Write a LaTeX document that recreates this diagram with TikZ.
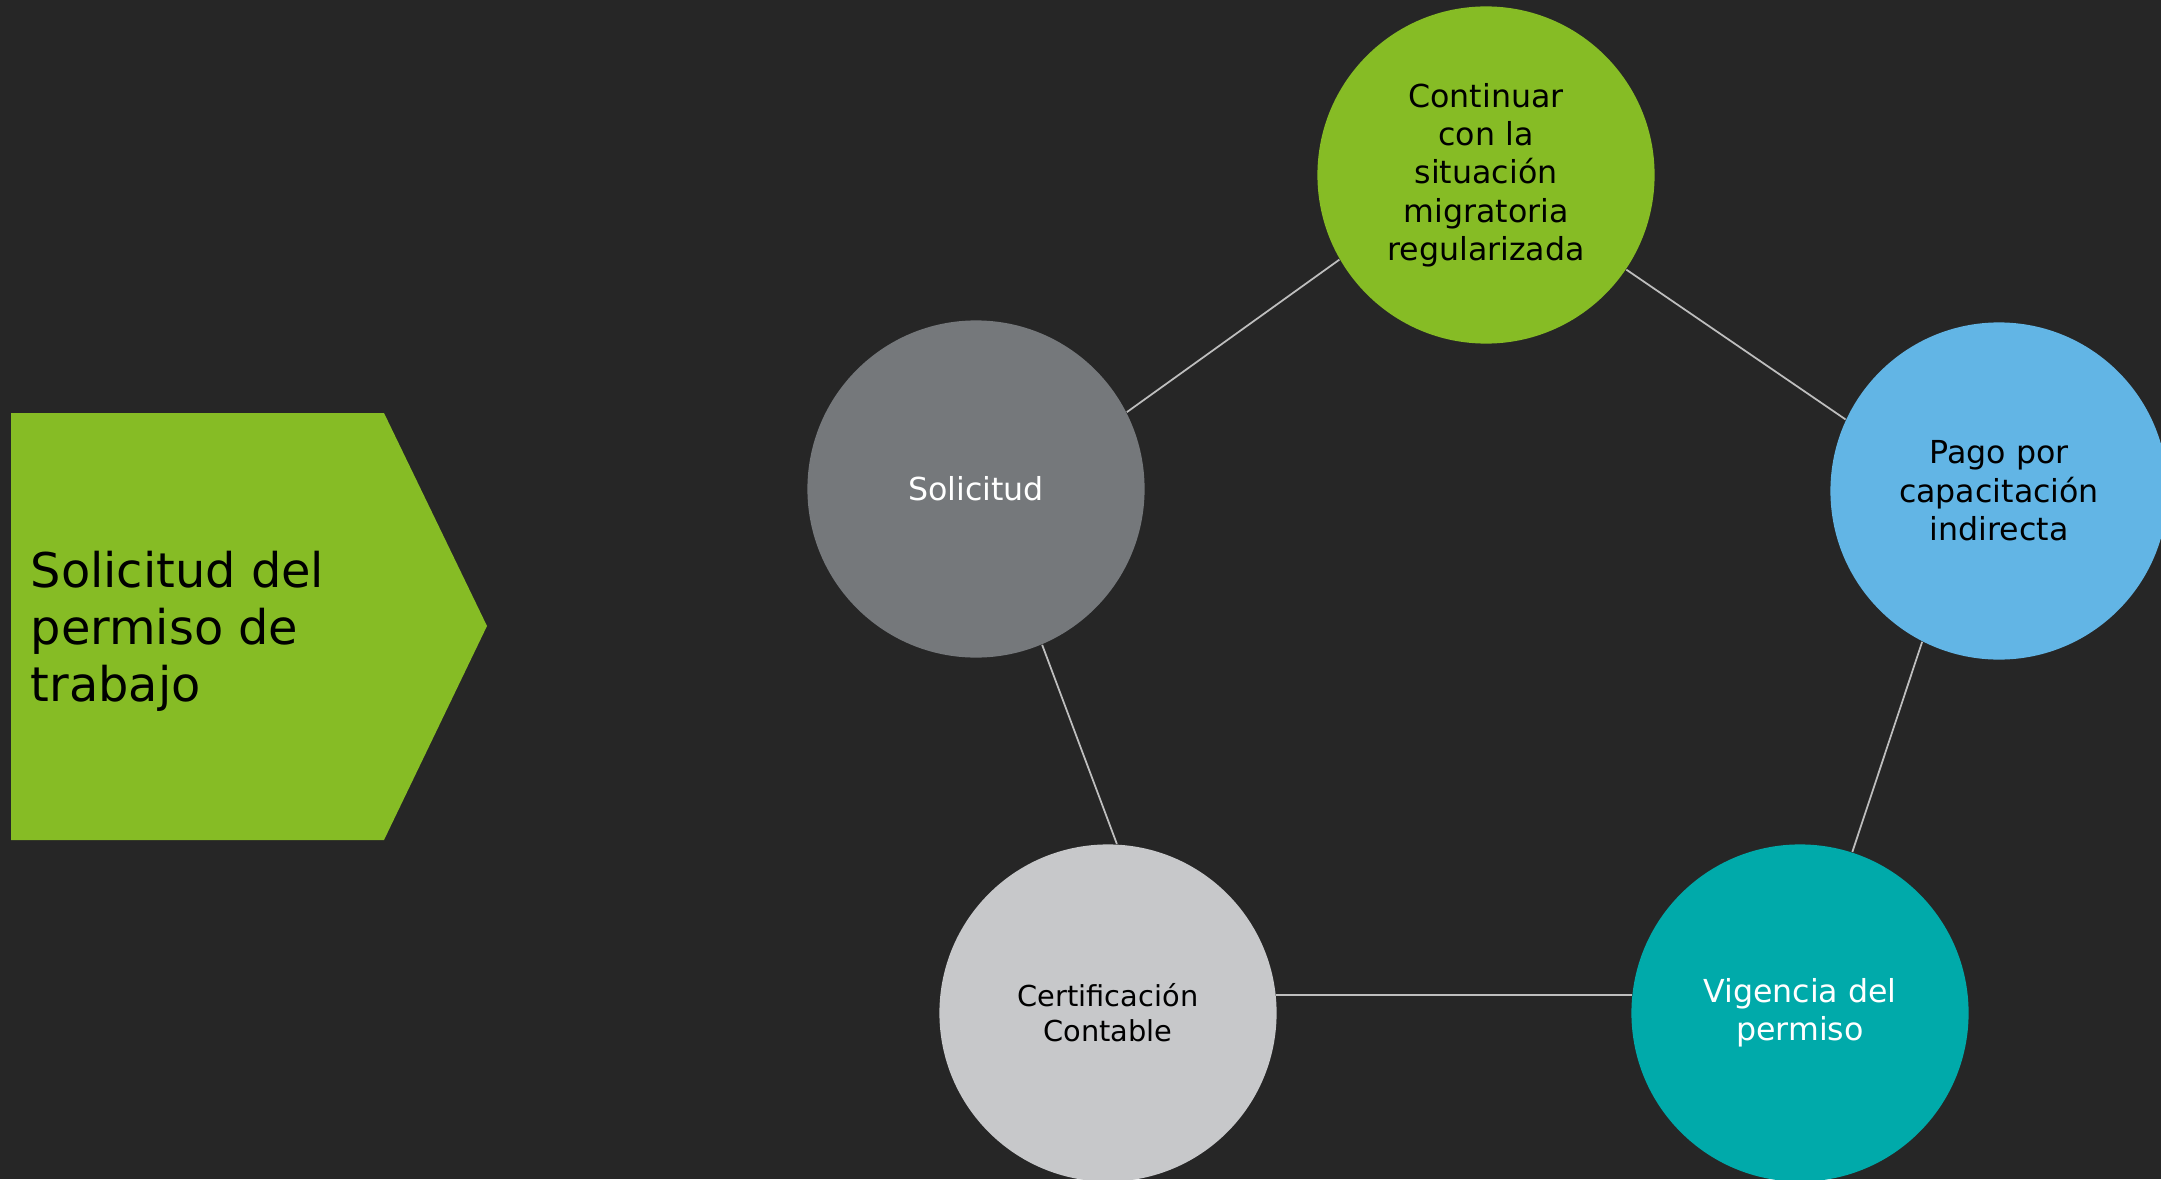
\documentclass[tikz,border=0pt]{standalone}
\usepackage{fontspec}
\setmainfont{DejaVu Sans}
\definecolor{fondo}{HTML}{262626}
\definecolor{verde}{HTML}{86BC25}
\definecolor{grisoscuro}{HTML}{75787B}
\definecolor{azulclaro}{HTML}{62B5E5}
\definecolor{turquesa}{HTML}{00AAAA}
\definecolor{grisclaro}{HTML}{C7C8CA}
\definecolor{linea}{HTML}{BEBEBE}
\begin{document}
\begin{tikzpicture}[x=0.01cm, y=-0.01cm,
	circulo/.style={circle, minimum size=3.37cm, inner sep=0pt, align=center, font=\fontsize{9pt}{10.9pt}\selectfont},
	conector/.style={draw=linea, line width=0.5pt}]
	% Fondo
	\fill[fondo] (0,0) rectangle (2161,1179);
	\useasboundingbox (0,0) rectangle (2161,1179);
	
	% Flecha del titulo
	\fill[verde] (11,413) -- ++(373,0) -- ++(103,213) -- ++(-103,214) -- ++(-373,0) -- cycle;
	\node[anchor=west, align=left, inner sep=0pt, font=\fontsize{13.6pt}{16.2pt}\selectfont] (titulo) at (30,631) {Solicitud del\\permiso de\\trabajo};
	
	% Circulos del ciclo
	\node[circulo, fill=verde] (cont) at (1486,175) {Continuar\\con la\\situación\\migratoria\\regularizada};
	\node[circulo, fill=azulclaro] (pago) at (1999,491) {Pago por\\capacitación\\indirecta};
	\node[circulo, fill=turquesa, text=white] (vig) at (1800,1013) {Vigencia del\\permiso};
	\node[circulo, fill=grisclaro, font=\fontsize{8.2pt}{10pt}\selectfont] (cert) at (1108,1013) {Certificación\\Contable};
	\node[circulo, fill=grisoscuro, text=white] (sol) at (976,489) {Solicitud};
	
	% Conectores
	\draw[conector] (sol.27.6) -- (cont.210.9);
	\draw[conector] (cont.326.6) -- (pago.155.1);
	\draw[conector] (pago.243.1) -- (vig.72);
	\draw[conector] (cert.6.4) -- (cert.6.4 -| vig.173.6);
	\draw[conector] (cert.87.6) -- (sol.293.3);
\end{tikzpicture}
\end{document}
